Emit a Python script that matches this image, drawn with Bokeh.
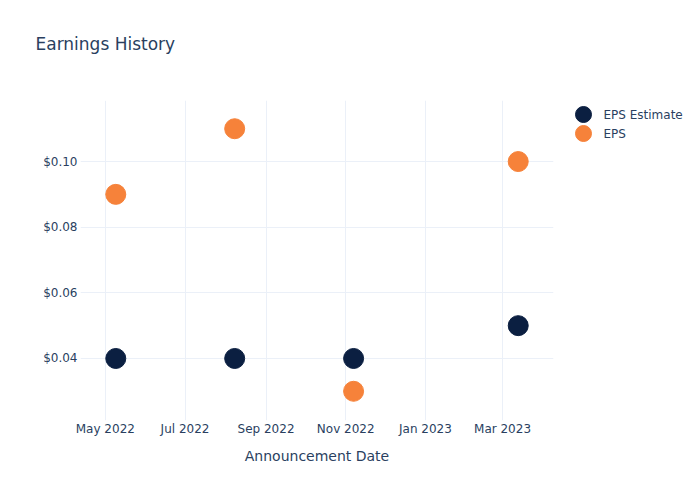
from datetime import datetime
from bokeh.plotting import figure
from bokeh.layouts import row
from bokeh.models import (ColumnDataSource, Range1d, FixedTicker, NumeralTickFormatter,
                          DatetimeTickFormatter, LinearAxis, CustomJSTickFormatter)
from bokeh.core.properties import value
from bokeh.embed import file_html
from bokeh.resources import INLINE

# ---- data ----
dates = ["2022-05-09", "2022-08-08", "2022-11-07", "2023-03-13"]
eps_estimate = [0.04, 0.04, 0.04, 0.05]
eps_actual = [0.09, 0.11, 0.03, 0.10]
series_names = ["EPS Estimate", "EPS"]
x_tick_dates = ["2022-05-01", "2022-07-01", "2022-09-01", "2022-11-01", "2023-01-01", "2023-03-01"]
y_ticks = [0.04, 0.06, 0.08, 0.10]

def ms(s):
    return (datetime.strptime(s, "%Y-%m-%d") - datetime(1970, 1, 1)).total_seconds() * 1000.0

x = [datetime.strptime(d, "%Y-%m-%d") for d in dates]
src = ColumnDataSource(dict(x=x, est=eps_estimate, eps=eps_actual))

TXT = "#2a3f5f"
FONT = "DejaVu Sans"
NAVY = "#0b1f41"
ORANGE = "#f6823a"
series_colors = [NAVY, ORANGE]

FRAME_TOP, FRAME_BOTTOM = 100, 420

p = figure(width=560, height=500, x_axis_type="datetime", output_backend="svg",
           toolbar_location=None,
           x_range=Range1d(ms("2022-04-12"), ms("2023-04-09")),
           y_range=Range1d(0.0211, 0.1186),
           min_border_left=80, min_border_right=7, min_border_top=FRAME_TOP,
           min_border_bottom=500 - FRAME_BOTTOM)
p.outline_line_color = None
p.background_fill_color = "white"
p.border_fill_color = "white"

xaxis = p.below[0]
yaxis = p.left[0]

# blank spacer axis between the frame and the title (white tick on white, empty label)
spacer = LinearAxis(ticker=FixedTicker(ticks=[ms(x_tick_dates[0])]), axis_line_color=None,
                    major_tick_line_color="white", minor_tick_line_color=None,
                    major_tick_out=20, major_tick_in=0, minor_tick_out=0, minor_tick_in=0,
                    major_label_standoff=0, axis_label_standoff=0,
                    major_label_text_font_size="1px",
                    formatter=CustomJSTickFormatter(code="return ''"))
p.add_layout(spacer, "above")

p.title.text = "Earnings History"
p.title.text_font = FONT
p.title.text_font_size = "17px"
p.title.text_font_style = "normal"
p.title.text_color = TXT
p.title.align = "left"
p.title.offset = -45
p.title.standoff = 54

p.scatter("x", "est", source=src, size=20, color=NAVY, line_color=NAVY)
p.scatter("x", "eps", source=src, size=20, color=ORANGE, line_color=ORANGE)

for ax in (xaxis, yaxis):
    ax.axis_line_color = None
    ax.major_tick_line_color = None
    ax.minor_tick_line_color = None
    ax.major_tick_out = 0
    ax.major_tick_in = 0
    ax.minor_tick_out = 0
    ax.major_label_text_font = FONT
    ax.major_label_text_font_size = "12px"
    ax.major_label_text_color = TXT
    ax.axis_label_text_font = FONT
    ax.axis_label_text_font_size = "14px"
    ax.axis_label_text_color = TXT
    ax.axis_label_text_font_style = "normal"

xaxis.ticker = FixedTicker(ticks=[ms(d) for d in x_tick_dates])
xaxis.formatter = DatetimeTickFormatter(days="%b %Y", months="%b %Y", years="%b %Y")
xaxis.major_label_standoff = 1
xaxis.axis_label = "Announcement Date"
xaxis.axis_label_standoff = 9

yaxis.ticker = FixedTicker(ticks=y_ticks)
yaxis.formatter = NumeralTickFormatter(format="$0.00")
yaxis.major_label_standoff = 3

p.xgrid.grid_line_color = "#ebf0f8"
p.ygrid.grid_line_color = "#ebf0f8"
p.xgrid.ticker = FixedTicker(ticks=[ms(d) for d in x_tick_dates])
p.ygrid.ticker = FixedTicker(ticks=y_ticks)

# ---- legend panel (frame aligned with main frame; pixel-like coordinates) ----
leg = figure(width=140, height=500, output_backend="svg", toolbar_location=None,
             x_range=Range1d(0, 140), y_range=Range1d(FRAME_BOTTOM, FRAME_TOP),
             x_axis_location=None, y_axis_location=None,
             min_border_left=0, min_border_right=0,
             min_border_top=FRAME_TOP, min_border_bottom=500 - FRAME_BOTTOM)
leg.outline_line_color = None
leg.xgrid.visible = False
leg.ygrid.visible = False
leg.background_fill_color = "white"
leg.border_fill_color = "white"

row_y = [114 + 19 * i for i in range(len(series_names))]
lsrc = ColumnDataSource(dict(gx=[23] * len(series_names), tx=[43] * len(series_names),
                             y=row_y, label=series_names, color=series_colors))
leg.scatter("gx", "y", source=lsrc, size=16, color="color", line_color="color")
leg.text("tx", "y", text="label", source=lsrc, text_font=value(FONT),
         text_font_size="12px", text_color=TXT, text_baseline="middle")

layout = row(p, leg, spacing=0)
open("out.html", "w").write(file_html(layout, INLINE))
